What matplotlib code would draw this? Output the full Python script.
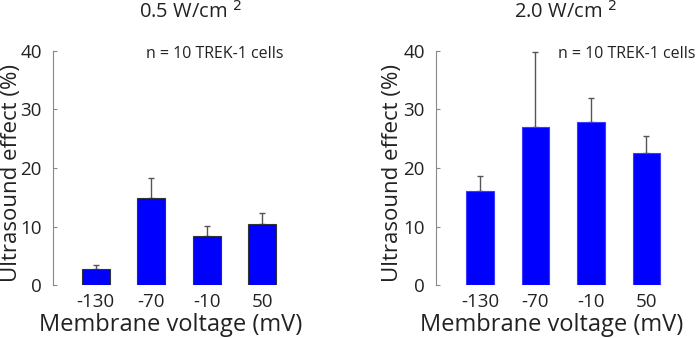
import numpy as np
import matplotlib.pyplot as plt

plt.rcParams['font.family'] = ['Open Sans', 'DejaVu Sans']

voltages = ['-130', '-70', '-10', '50']

# ultrasound effect (%) and upper error, per intensity
effect_low = [2.7, 14.9, 8.3, 10.4]
err_low = [0.8, 3.4, 1.8, 1.9]
effect_high = [16.0, 27.0, 27.9, 22.5]
err_high = [2.7, 12.8, 4.0, 3.0]

titles = ['0.5 W/cm $^2$', '2.0 W/cm $^2$']
note = 'n = 10 TREK-1 cells'

W, H = 697, 338
fig = plt.figure(figsize=(W / 100, H / 100), dpi=100)
ax1 = fig.add_axes([53 / W, 53 / H, 251 / W, 234 / H])
ax2 = fig.add_axes([436 / W, 53 / H, 251 / W, 234 / H])

dark = '#222222'
panels = [
    # axes, values, errors, bar edge, xlim start, title x, label x, xlabel center, note right edge
    (ax1, effect_low, err_low, '#333333', 0.23, titles[0], 190, 22, 171, 283),
    (ax2, effect_high, err_high, '#3a3aff', 0.21, titles[1], 565, 403, 552, 695),
]

x = np.arange(1, len(voltages) + 1)
for ax, vals, errs, edge, x0, title, tx, lx, xlx, nx in panels:
    ax.bar(x, vals, width=0.5, color='#0000ff', edgecolor=edge, linewidth=0.8, zorder=2)
    ax.errorbar(x, vals, yerr=[np.zeros(len(vals)), errs], fmt='none',
                ecolor='#555555', elinewidth=1, capsize=2.5, capthick=1, zorder=1)
    ax.set_xlim(x0, x0 + 4.52)
    ax.set_ylim(0, 40)
    ax.set_yticks([0, 10, 20, 30, 40])
    ax.set_xticks(x)
    ax.set_xticklabels(voltages)
    for s in ['top', 'right', 'bottom']:
        ax.spines[s].set_visible(False)
    ax.spines['left'].set_color('#888888')
    ax.tick_params(axis='y', direction='in', length=3, color='#888888',
                   labelsize=13.5, labelcolor=dark, pad=8)
    ax.tick_params(axis='x', length=0, labelsize=13.5, labelcolor=dark, pad=6)
    ax.set_ylabel('Ultrasound effect (%)', fontsize=16, color=dark)
    ax.yaxis.set_label_coords(lx / W, 1 - 173 / H, transform=fig.transFigure)
    ax.set_xlabel('Membrane voltage (mV)', fontsize=17, color=dark)
    ax.xaxis.set_label_coords(xlx / W, 1 - 313 / H, transform=fig.transFigure)
    fig.text(tx / W, 1 - 18 / H, title, ha='center', va='baseline',
             fontsize=14.5, color=dark)
    fig.text(nx / W, 1 - 58 / H, note, ha='right', va='baseline',
             fontsize=11.5, color=dark)

fig.savefig('out.png', dpi=100)
